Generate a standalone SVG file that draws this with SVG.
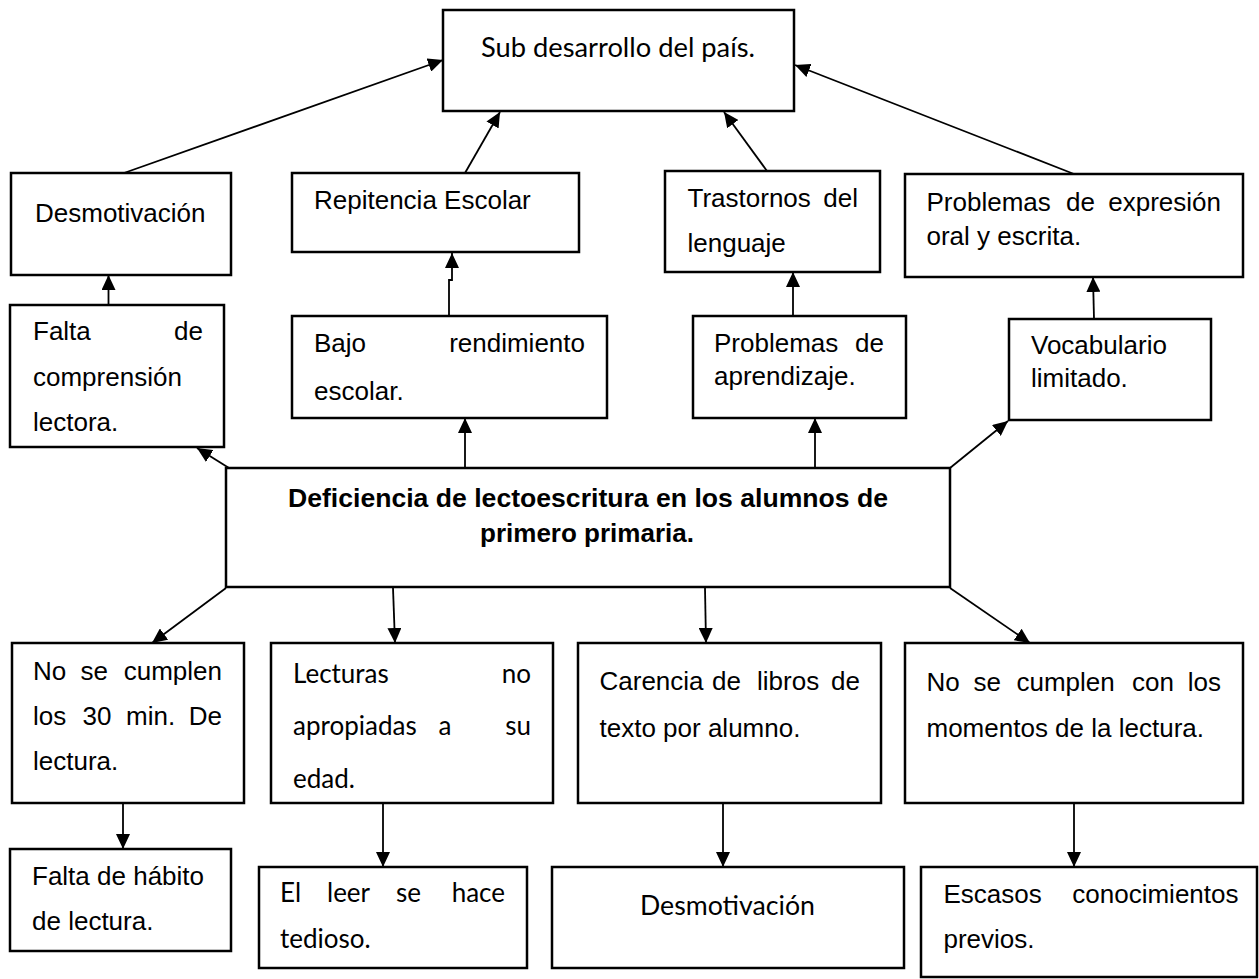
<svg xmlns="http://www.w3.org/2000/svg" width="1259" height="979" viewBox="0 0 1259 979">
<style>
.box{fill:#fff;stroke:#000;stroke-width:2.5}
.a{font-family:"Liberation Sans",Arial,sans-serif;font-size:26px;fill:#000}
.b{font-family:"Liberation Sans",Arial,sans-serif;font-size:26px;font-weight:bold;fill:#000}
.c{font-family:Lato,"Noto Sans",sans-serif;font-size:26px;fill:#000}
.e{text-anchor:end}
.m{text-anchor:middle}
.ln{fill:none;stroke:#000;stroke-width:1.8;marker-end:url(#ah)}
</style>
<defs>
<marker id="ah" markerUnits="userSpaceOnUse" markerWidth="16" markerHeight="14" refX="15" refY="7" orient="auto">
<path d="M0,0 L15,7 L0,14 z" fill="#000"/>
</marker>
</defs>
<rect width="1259" height="979" fill="#fff"/>
<g id="connectors">
<line class="ln" x1="124" y1="173" x2="443" y2="60"/>
<line class="ln" x1="465" y1="173" x2="500" y2="112"/>
<line class="ln" x1="767" y1="171" x2="724" y2="112"/>
<line class="ln" x1="1074" y1="174" x2="795" y2="65"/>
<line class="ln" x1="108.5" y1="305" x2="108.5" y2="275"/>
<polyline class="ln" points="449,316 449,280 452,280 452,253"/>
<line class="ln" x1="793" y1="316" x2="793" y2="272"/>
<line class="ln" x1="1094" y1="319" x2="1093" y2="277"/>
<line class="ln" x1="229" y1="468" x2="197" y2="448"/>
<line class="ln" x1="465" y1="468" x2="465" y2="418"/>
<line class="ln" x1="815" y1="468" x2="815" y2="418"/>
<line class="ln" x1="950" y1="468" x2="1008" y2="421"/>
<line class="ln" x1="226" y1="588" x2="152" y2="643"/>
<line class="ln" x1="393" y1="588" x2="395" y2="643"/>
<line class="ln" x1="705" y1="588" x2="706" y2="643"/>
<line class="ln" x1="950" y1="588" x2="1030" y2="643"/>
<line class="ln" x1="123" y1="803" x2="123" y2="849"/>
<line class="ln" x1="383" y1="803" x2="383" y2="867"/>
<line class="ln" x1="723" y1="803" x2="723" y2="867"/>
<line class="ln" x1="1074" y1="803" x2="1074" y2="867"/>
</g>
<g id="sub">
<rect class="box" x="443" y="10" width="351" height="101"/>
<text class="c" x="481" y="57" textLength="274" lengthAdjust="spacingAndGlyphs">Sub desarrollo del país.</text>
</g>
<g id="desmotivacion1">
<rect class="box" x="11" y="173" width="220" height="102"/>
<text class="a" x="35" y="222">Desmotivación</text>
</g>
<g id="repitencia">
<rect class="box" x="292" y="173" width="287" height="79"/>
<text class="a" x="314" y="209">Repitencia Escolar</text>
</g>
<g id="trastornos">
<rect class="box" x="665" y="171" width="215" height="101"/>
<text class="a" x="687.5" y="207">Trastornos</text>
<text class="a e" x="858" y="207">del</text>
<text class="a" x="687.5" y="252">lenguaje</text>
</g>
<g id="problemas-expresion">
<rect class="box" x="905" y="174" width="338" height="103"/>
<text class="a" x="926.5" y="211">Problemas</text>
<text class="a" x="1066" y="211">de</text>
<text class="a e" x="1221" y="211">expresión</text>
<text class="a" x="926.5" y="245">oral y escrita.</text>
</g>
<g id="falta-comprension">
<rect class="box" x="10" y="305" width="214" height="142"/>
<text class="a" x="33" y="340">Falta</text>
<text class="a e" x="203" y="340">de</text>
<text class="a" x="33" y="386">comprensión</text>
<text class="a" x="33" y="431">lectora.</text>
</g>
<g id="bajo-rendimiento">
<rect class="box" x="292" y="316" width="315" height="102"/>
<text class="a" x="314" y="352">Bajo</text>
<text class="a e" x="585" y="352">rendimiento</text>
<text class="a" x="314" y="400">escolar.</text>
</g>
<g id="problemas-aprendizaje">
<rect class="box" x="693" y="316" width="213" height="102"/>
<text class="a" x="714" y="352">Problemas</text>
<text class="a e" x="884" y="352">de</text>
<text class="a" x="714" y="385">aprendizaje.</text>
</g>
<g id="vocabulario">
<rect class="box" x="1009" y="319" width="202" height="101"/>
<text class="a" x="1031" y="354">Vocabulario</text>
<text class="a" x="1031" y="387">limitado.</text>
</g>
<g id="central">
<rect class="box" x="226" y="468" width="724" height="119"/>
<text class="b m" x="588" y="507" textLength="600" lengthAdjust="spacingAndGlyphs">Deficiencia de lectoescritura en los alumnos de</text>
<text class="b m" x="587" y="542">primero primaria.</text>
</g>
<g id="no-se-cumplen-30">
<rect class="box" x="12" y="643" width="232" height="160"/>
<text class="a" x="33" y="680">No</text>
<text class="a" x="80.5" y="680">se</text>
<text class="a e" x="222" y="680">cumplen</text>
<text class="a" x="33" y="725">los</text>
<text class="a" x="82.5" y="725">30</text>
<text class="a" x="126" y="725">min.</text>
<text class="a e" x="222" y="725">De</text>
<text class="a" x="33" y="770">lectura.</text>
</g>
<g id="lecturas">
<rect class="box" x="271" y="643" width="282" height="160"/>
<text class="c" x="293" y="683">Lecturas</text>
<text class="c e" x="531" y="683">no</text>
<text class="c" x="293" y="735">apropiadas</text>
<text class="c m" x="445" y="735">a</text>
<text class="c e" x="531" y="735">su</text>
<text class="c" x="293" y="788">edad.</text>
</g>
<g id="carencia">
<rect class="box" x="578" y="643" width="303" height="160"/>
<text class="a" x="599.5" y="690">Carencia</text>
<text class="a" x="712" y="690">de</text>
<text class="a" x="757" y="690">libros</text>
<text class="a e" x="860" y="690">de</text>
<text class="a" x="599.5" y="737">texto por alumno.</text>
</g>
<g id="no-se-cumplen-momentos">
<rect class="box" x="905" y="643" width="338" height="160"/>
<text class="a" x="926.5" y="691">No</text>
<text class="a" x="973.5" y="691">se</text>
<text class="a" x="1016.5" y="691">cumplen</text>
<text class="a" x="1132" y="691">con</text>
<text class="a e" x="1221" y="691">los</text>
<text class="a" x="926.5" y="737">momentos de la lectura.</text>
</g>
<g id="falta-habito">
<rect class="box" x="10" y="849" width="221" height="102"/>
<text class="a" x="32" y="885">Falta de hábito</text>
<text class="a" x="32" y="930">de lectura.</text>
</g>
<g id="el-leer">
<rect class="box" x="259" y="867" width="268" height="101"/>
<text class="c" x="280" y="902">El</text>
<text class="c" x="327" y="902">leer</text>
<text class="c" x="396" y="902">se</text>
<text class="c e" x="505" y="902">hace</text>
<text class="c" x="280" y="948">tedioso.</text>
</g>
<g id="desmotivacion2">
<rect class="box" x="552" y="867" width="352" height="101"/>
<text class="c" x="640" y="915" textLength="175" lengthAdjust="spacingAndGlyphs">Desmotivación</text>
</g>
<g id="escasos">
<rect class="box" x="921" y="867" width="336" height="110"/>
<text class="a" x="943.5" y="903">Escasos</text>
<text class="a e" x="1238.5" y="903">conocimientos</text>
<text class="a" x="943.5" y="948">previos.</text>
</g>
</svg>
